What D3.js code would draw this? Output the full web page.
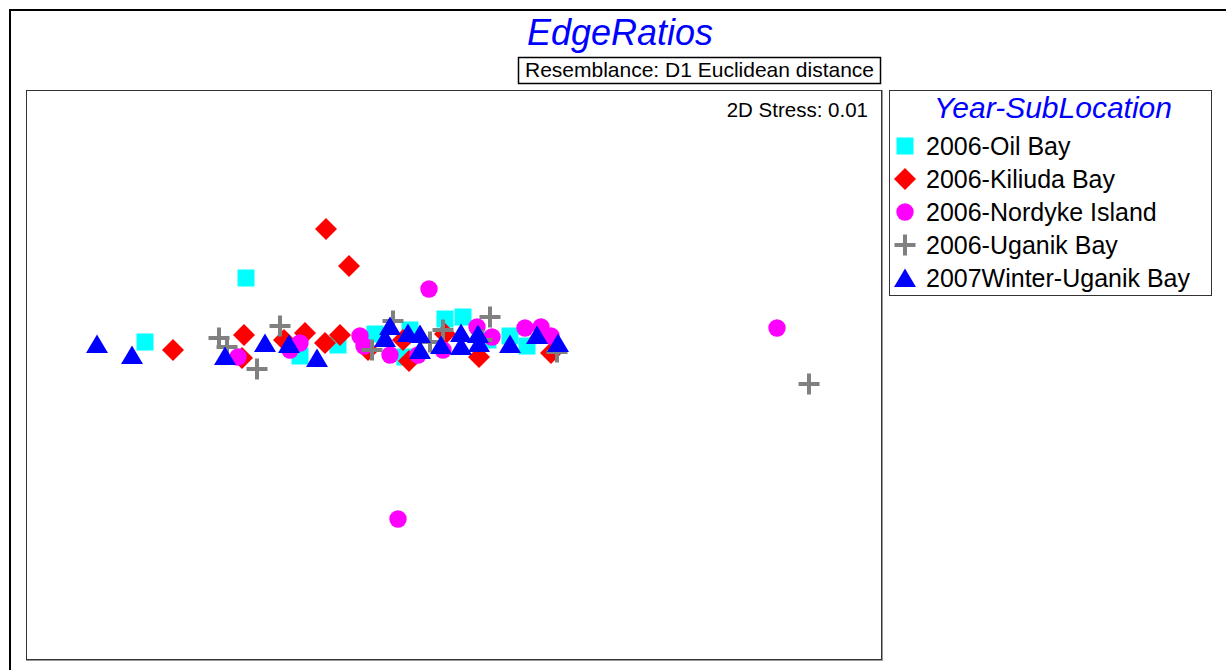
<!DOCTYPE html>
<html>
<head>
<meta charset="utf-8">
<script src="https://cdn.jsdelivr.net/npm/d3@7"></script>
<style>
  body { margin: 0; background: #fff; }
  text { font-family: "Liberation Sans", Arial, sans-serif; }
</style>
</head>
<body>
<script>
// MDS ordination coordinates (arbitrary units), one array per group
const oilBay = [
    [-2.075, 0.965], [-3.085, 0.325], [-1.535, 0.185], [-1.155, 0.295],
    [-0.785, 0.405], [-0.435, 0.445], [-0.485, 0.175], [-0.085, 0.555],
    [0.095, 0.575], [0.345, 0.345], [0.565, 0.385], [0.735, 0.285]
];
const kiliudaBay = [
    [-1.275, 1.455], [-1.045, 1.085], [-2.805, 0.245], [-2.095, 0.395],
    [-2.115, 0.165], [-1.695, 0.345], [-1.485, 0.415], [-1.285, 0.315],
    [-1.135, 0.395], [-0.855, 0.245], [-0.505, 0.345], [-0.445, 0.135],
    [-0.085, 0.405], [0.255, 0.175], [0.975, 0.215]
];
const nordykeIsland = [
    [-0.245, 0.855], [3.235, 0.465], [-0.555, -1.445], [-2.155, 0.175],
    [-1.635, 0.245], [-1.535, 0.315], [-0.935, 0.385], [-0.895, 0.285],
    [-0.635, 0.195], [-0.355, 0.195], [-0.105, 0.245], [0.235, 0.475],
    [0.385, 0.375], [0.715, 0.465], [0.875, 0.475], [0.975, 0.385]
];
const uganikBay = [
    [3.555, -0.095], [-2.345, 0.365], [-2.265, 0.275], [-1.965, 0.055],
    [-1.735, 0.485], [-0.815, 0.245], [-0.605, 0.535], [-0.235, 0.325],
    [-0.105, 0.445], [0.365, 0.575], [0.285, 0.345], [1.035, 0.225]
];
const winterUganik = [
    [-3.565, 0.305], [-3.215, 0.195], [-2.285, 0.185], [-1.885, 0.315],
    [-1.645, 0.305], [-1.365, 0.165], [-0.685, 0.365], [-0.635, 0.485],
    [-0.455, 0.415], [-0.335, 0.405], [-0.335, 0.245], [-0.125, 0.295],
    [0.075, 0.415], [0.075, 0.285], [0.245, 0.405], [0.255, 0.315],
    [0.565, 0.305], [0.835, 0.395], [1.045, 0.315]
];

const groupNames = ["2006-Oil Bay", "2006-Kiliuda Bay", "2006-Nordyke Island",
    "2006-Uganik Bay", "2007Winter-Uganik Bay"];
const groupData = [oilBay, kiliudaBay, nordykeIsland, uganikBay, winterUganik];
const groupColors = ["#00ffff", "#ff0000", "#ff00ff", "#808080", "#0000ff"];
const groupShapes = ["square", "diamond", "circle", "plus", "triangle"];

const width = 1226, height = 670;
const plot = {x0: 26, x1: 881, y0: 90, y1: 659};

const svg = d3.select("body").append("svg")
    .attr("width", width)
    .attr("height", height);

// outer frame (runs off the page right and bottom)
svg.append("path")
    .attr("d", `M10,${height + 5} L10,10 L${width + 5},10`)
    .attr("fill", "none")
    .attr("stroke", "#000")
    .attr("stroke-width", 2);

svg.append("text")
    .attr("x", 620).attr("y", 45)
    .attr("text-anchor", "middle")
    .attr("fill", "#0000ff")
    .style("font-size", "36px")
    .style("font-style", "italic")
    .text("EdgeRatios");

svg.append("rect")
    .attr("x", 518.5).attr("y", 57.5)
    .attr("width", 362).attr("height", 26)
    .attr("fill", "#fff").attr("stroke", "#000").attr("stroke-width", 1.5);
svg.append("text")
    .attr("x", 699.5).attr("y", 77)
    .attr("text-anchor", "middle")
    .style("font-size", "21px")
    .text("Resemblance: D1 Euclidean distance");

// plot box
svg.append("rect")
    .attr("x", plot.x0 + 0.5).attr("y", plot.y0 + 0.5)
    .attr("width", plot.x1 - plot.x0).attr("height", plot.y1 - plot.y0)
    .attr("fill", "#fff").attr("stroke", "#333").attr("stroke-width", 1);
svg.append("path")
    .attr("d", `M${plot.x0},${plot.y1 + 1.5} L${plot.x1 + 1.5},${plot.y1 + 1.5} L${plot.x1 + 1.5},${plot.y0}`)
    .attr("fill", "none").attr("stroke", "#999").attr("stroke-width", 1);

svg.append("text")
    .attr("x", 868).attr("y", 117)
    .attr("text-anchor", "end")
    .style("font-size", "20.5px")
    .text("2D Stress: 0.01");

// equal-aspect MDS scales, 100 px per unit
const x = d3.scaleLinear().domain([-4.275, 4.275]).range([plot.x0, plot.x1]);
const y = d3.scaleLinear().domain([-2.845, 2.845]).range([plot.y1, plot.y0]);

function shapePath(shape) {
    switch (shape) {
        case "square": return "M-8.5,-8.5 H8.5 V8.5 H-8.5 Z";
        case "diamond": return "M0,-11 L11,0 L0,11 L-11,0 Z";
        case "circle": return d3.arc()({innerRadius: 0, outerRadius: 8.7, startAngle: 0, endAngle: 2 * Math.PI});
        case "plus": return "M-10.5,0 H10.5 M0,-10.5 V10.5";
        case "triangle": return "M0,-9.5 L11,9 L-11,9 Z";
    }
}

function drawMark(sel, i) {
    const shape = groupShapes[i];
    if (shape === "plus") {
        sel.attr("d", shapePath(shape))
            .attr("fill", "none")
            .attr("stroke", groupColors[i])
            .attr("stroke-width", 4);
    } else {
        sel.attr("d", shapePath(shape))
            .attr("fill", groupColors[i]);
    }
}

const points = svg.append("g");
groupData.forEach((arr, i) => {
    points.append("g")
        .attr("class", "group")
        .selectAll("path")
        .data(arr)
        .enter()
        .append("path")
        .attr("transform", d => `translate(${x(d[0])},${y(d[1])})`)
        .call(drawMark, i);
});

// legend
const legendBox = svg.append("g");
legendBox.append("rect")
    .attr("x", 889.5).attr("y", 90.5)
    .attr("width", 322).attr("height", 205)
    .attr("fill", "#fff").attr("stroke", "#333").attr("stroke-width", 1);
legendBox.append("text")
    .attr("x", 1053).attr("y", 118)
    .attr("text-anchor", "middle")
    .attr("fill", "#0000ff")
    .style("font-size", "30px")
    .style("font-style", "italic")
    .text("Year-SubLocation");

const legend = legendBox.selectAll(".legends")
    .data(groupNames)
    .enter()
    .append("g")
    .classed("legends", true)
    .attr("transform", (d, i) => `translate(905, ${146 + i * 33})`);

legend.append("path").each(function(d, i) { d3.select(this).call(drawMark, i); });

legend.append("text")
    .text(d => d)
    .attr("x", 21).attr("y", 8.5)
    .style("font-size", "25px");
</script>
</body>
</html>
